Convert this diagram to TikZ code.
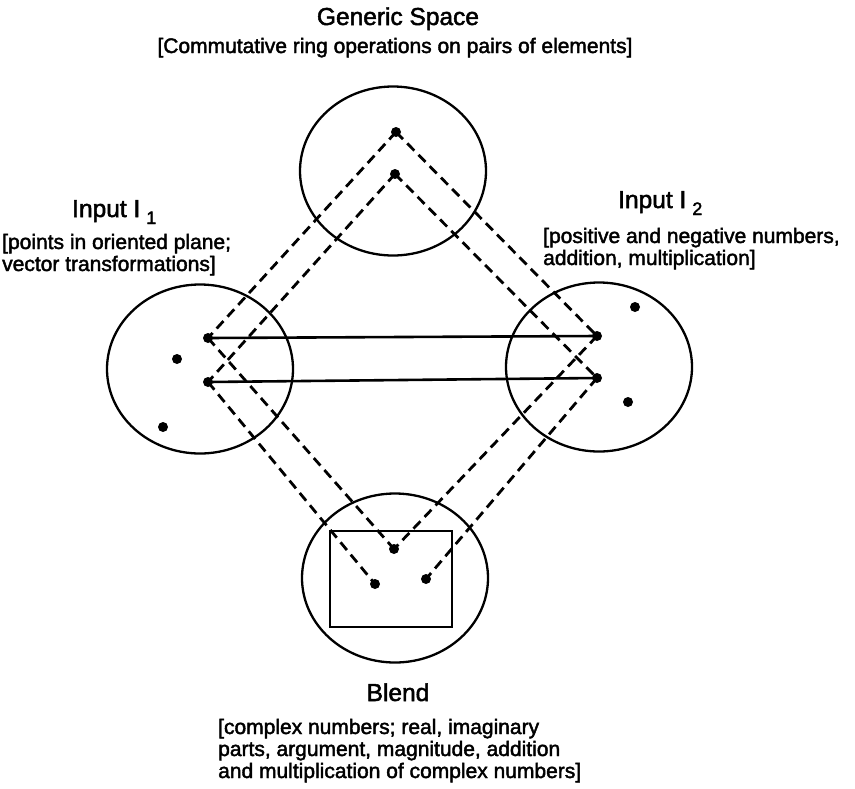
\documentclass[tikz,border=0pt]{standalone}
\usepackage{fontspec}
\setmainfont{Liberation Sans}
\newfontfamily\scanfont[FakeBold=2]{Liberation Sans}
\usetikzlibrary{shapes.geometric}

\newcommand{\headfont}{\scanfont\fontsize{24.5}{26}\selectfont}
\newcommand{\notefont}{\scanfont\fontsize{21}{22}\selectfont}
\newcommand{\idx}[1]{\hspace{6pt}\raisebox{-7pt}{\fontsize{18}{18}\selectfont #1}}

\begin{document}
\begin{tikzpicture}[x=1pt,y=-1pt,
    mspace/.style={draw, ellipse, line width=2.3pt, minimum width=186pt, minimum height=169pt, inner sep=0pt},
    elem/.style={circle, fill=black, inner sep=0pt, minimum size=10pt},
    proj/.style={line width=2.8pt, dash pattern=on 10pt off 6pt},
    link/.style={line width=2.6pt},
    head/.style={anchor=base, font=\headfont, inner sep=0pt},
    note/.style={anchor=base west, font=\notefont, inner sep=0pt}]
        \useasboundingbox (0,0) rectangle (855,788);

        \node[mspace] (gen) at (393,171) {};
        \node[mspace] (inone) at (200,369) {};
        \node[mspace] (intwo) at (599,367) {};
        \node[mspace] (blend) at (395,578) {};
        \node[draw, line width=2.3pt, minimum width=122pt, minimum height=96pt, inner sep=0pt] (frame) at (391,579) {};

        \node[elem] (g1) at (396,132) {};
        \node[elem] (g2) at (395,174) {};

        \node[elem] (a1) at (208,338) {};
        \node[elem] (a2) at (208,382) {};
        \node[elem] (a3) at (177,359) {};
        \node[elem] (a4) at (163,427) {};

        \node[elem] (b1) at (597,336) {};
        \node[elem] (b2) at (597,378) {};
        \node[elem] (b3) at (635,307) {};
        \node[elem] (b4) at (628,402) {};

        \node[elem] (c1) at (394,549) {};
        \node[elem] (c2) at (375,584) {};
        \node[elem] (c3) at (426,579) {};

        \draw[link] (a1.center) -- (b1.center);
        \draw[link] (a2.center) -- (b2.center);

        \draw[proj] (g1.center) -- (a1.center);
        \draw[proj] (g1.center) -- (b1.center);
        \draw[proj] (g2.center) -- (a2.center);
        \draw[proj] (g2.center) -- (b2.center);
        \draw[proj] (a1.center) -- (c1.center);
        \draw[proj] (b1.center) -- (c1.center);
        \draw[proj] (a2.center) -- (c2.center);
        \draw[proj] (b2.center) -- (c3.center);

        \node[head] (gentitle) at (398,25) {Generic Space};
        \node[note, anchor=base] (gennote) at (395,53) {[Commutative ring operations on pairs of elements]};

        \node[head, anchor=base west] (onetitle) at (72,217) {Input\ I\idx{1}};
        \node[note] (onenotea) at (2,249) {[points in oriented plane;};
        \node[note] (onenoteb) at (2,271) {vector transformations]};

        \node[head, anchor=base west] (twotitle) at (618,208) {Input\ I\idx{2}};
        \node[note] (twonotea) at (543,243) {[positive and negative numbers,};
        \node[note] (twonoteb) at (543,265) {addition, multiplication]};

        \node[head] (blendtitle) at (398,701) {Blend};
        \node[note] (blendnotea) at (218,734) {[complex numbers; real, imaginary};
        \node[note] (blendnoteb) at (218,756) {parts, argument, magnitude, addition};
        \node[note] (blendnotec) at (218,778) {and multiplication of complex numbers]};
\end{tikzpicture}
\end{document}
